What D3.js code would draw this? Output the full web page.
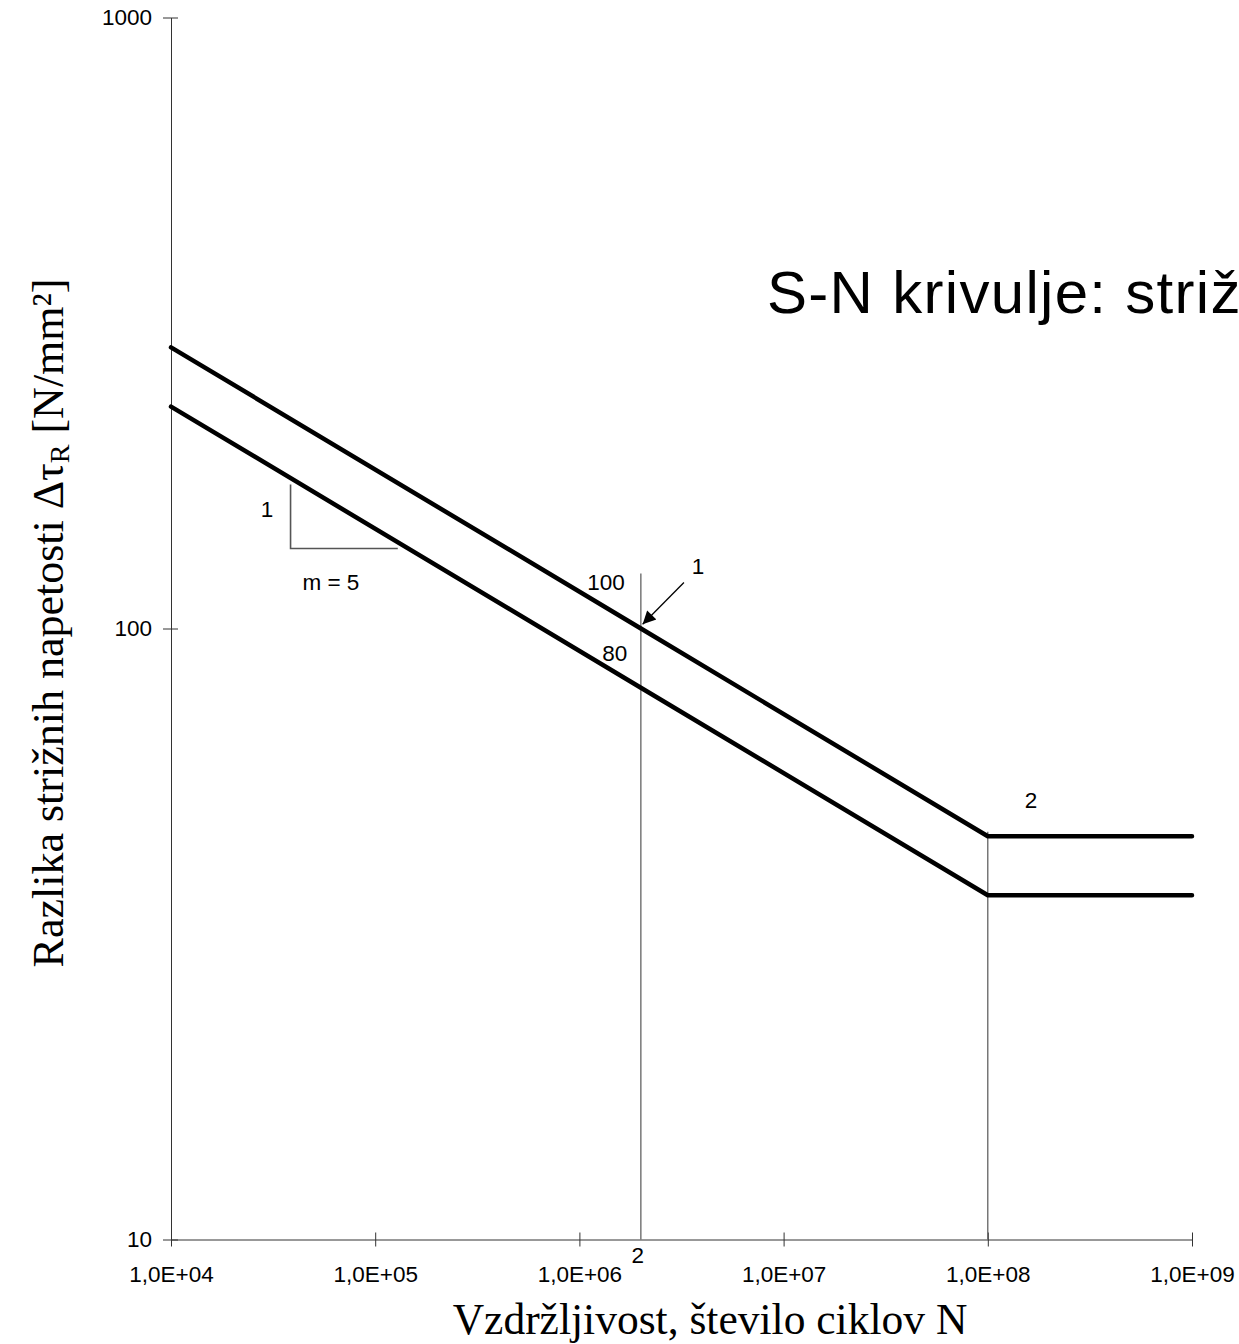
<!DOCTYPE html>
<html>
<head>
<meta charset="utf-8">
<script src="https://cdnjs.cloudflare.com/ajax/libs/d3/7.8.5/d3.min.js"></script>
<style>
  body { margin: 0; background: #fff; }
  svg { display: block; }
</style>
</head>
<body>
<svg id="sn" width="1239" height="1344"></svg>
<script>
// S-N curve data (cycles N, stress range in N/mm2)
var cycles = [1e4, 2e6, 1e8, 1e9];
var curve100 = [288.5, 100, 45.7, 45.7];
var curve80 = [230.8, 80, 36.6, 36.6];

// vertical reference lines at 2e6 and 1e8
var refN = [2e6, 1e8];
var refTop = [123, 46.5];

// slope triangle (m = 5)
var triN = [3.85e4, 3.85e4, 1.29e5];
var triS = [172, 135.2, 135.2];

var xTicks = [1e4, 1e5, 1e6, 1e7, 1e8, 1e9];
var xTickLabels = ["1,0E+04", "1,0E+05", "1,0E+06", "1,0E+07", "1,0E+08", "1,0E+09"];
var yTicks = [10, 100, 1000];

// annotation texts with their anchor in data units
var noteText = ["1", "m = 5", "100", "80", "1", "2", "2"];
var noteN = [2.95e4, 6.07e4, 1.35e6, 1.49e6, 3.81e6, 1.63e8, 1.93e6];
var noteS = [152.5, 115.4, 115.4, 88.6, 123.0, 50.9, 9.15];

function snChart() {
    var svg = d3.select("#sn");

    var x = d3.scaleLog().domain([1e4, 1e9]).range([171, 1192]),
        y = d3.scaleLog().domain([10, 1000]).range([1239.5, 17.5]);

    var g = svg.append("g");

    // x axis
    g.append("g")
     .attr("transform", "translate(0," + y(10) + ")")
     .call(d3.axisBottom(x).tickValues(xTicks).tickSizeInner(7).tickSizeOuter(0)
        .tickFormat(function(d, i) { return xTickLabels[i]; }))
     .call(function(a) {
         a.select(".domain").attr("stroke", "#333");
         a.selectAll(".tick line").attr("y1", -7).attr("stroke", "#333");
         a.selectAll(".tick text")
          .attr("y", 42).attr("dy", 0)
          .attr("font-family", "'Liberation Sans', Arial, sans-serif")
          .attr("font-size", "22.5px").attr("fill", "#000");
     });

    // y axis
    g.append("g")
     .attr("transform", "translate(" + x(1e4) + ",0)")
     .call(d3.axisLeft(y).tickValues(yTicks).tickSizeInner(8).tickSizeOuter(0)
        .tickFormat(d3.format("d")))
     .call(function(a) {
         a.select(".domain").attr("stroke", "#333");
         a.selectAll(".tick line").attr("x1", 7).attr("x2", -8).attr("stroke", "#333");
         a.selectAll(".tick text")
          .attr("x", -19)
          .attr("font-family", "'Liberation Sans', Arial, sans-serif")
          .attr("font-size", "22.5px").attr("fill", "#000");
     });

    // vertical reference lines
    g.selectAll(".ref")
     .data(refN)
     .enter().append("line")
     .attr("class", "ref")
     .attr("x1", function(d) { return x(d); })
     .attr("x2", function(d) { return x(d); })
     .attr("y1", function(d, i) { return y(refTop[i]); })
     .attr("y2", y(10))
     .attr("stroke", "#555")
     .attr("stroke-width", 1.2);

    // slope triangle
    var tri = d3.line()
        .x(function(d) { return x(d[0]); })
        .y(function(d) { return y(d[1]); });
    g.append("path")
     .attr("d", tri(triN.map(function(n, i) { return [n, triS[i]]; })))
     .attr("fill", "none")
     .attr("stroke", "#555")
     .attr("stroke-width", 1.6);

    // S-N curves
    var line = d3.line()
        .x(function(d) { return x(d[0]); })
        .y(function(d) { return y(d[1]); });
    [curve100, curve80].forEach(function(c) {
        g.append("path")
         .attr("d", line(cycles.map(function(n, i) { return [n, c[i]]; })))
         .attr("fill", "none")
         .attr("stroke", "#000")
         .attr("stroke-width", 4.5)
         .attr("stroke-linecap", "round")
         .attr("stroke-linejoin", "round");
    });

    // arrow pointing at detail category 100 at 2e6
    svg.append("defs").append("marker")
       .attr("id", "arrow")
       .attr("viewBox", "0 0 10 10")
       .attr("refX", 10).attr("refY", 5)
       .attr("markerWidth", 20).attr("markerHeight", 13)
       .attr("markerUnits", "userSpaceOnUse")
       .attr("orient", "auto")
       .append("path")
       .attr("d", "M0,0L10,5L0,10Z")
       .attr("fill", "#000");

    g.append("line")
     .attr("x1", x(3.25e6)).attr("y1", y(118.9))
     .attr("x2", x(2.04e6)).attr("y2", y(101.6))
     .attr("stroke", "#000")
     .attr("stroke-width", 1.3)
     .attr("marker-end", "url(#arrow)");

    // annotations
    g.selectAll(".note")
     .data(noteText)
     .enter().append("text")
     .attr("class", "note")
     .attr("x", function(d, i) { return x(noteN[i]); })
     .attr("y", function(d, i) { return y(noteS[i]); })
     .attr("text-anchor", "middle")
     .attr("font-family", "'Liberation Sans', Arial, sans-serif")
     .attr("font-size", "22.5px")
     .text(function(d) { return d; });

    // title (runs off the right edge as in the original)
    svg.append("text")
       .attr("x", 767)
       .attr("y", 313)
       .attr("font-family", "'Liberation Sans', Arial, sans-serif")
       .attr("font-size", "60px")
       .attr("letter-spacing", "1.3px")
       .text("S-N krivulje: strižne napetosti");

    // axis titles
    svg.append("text")
       .attr("x", 710)
       .attr("y", 1334)
       .attr("text-anchor", "middle")
       .attr("font-family", "'Liberation Serif', 'Times New Roman', serif")
       .attr("font-size", "43.5px")
       .text("Vzdržljivost, število ciklov N");

    var yt = svg.append("text")
       .attr("transform", "translate(63,623) rotate(-90)")
       .attr("text-anchor", "middle")
       .attr("font-family", "'Liberation Serif', 'Times New Roman', serif")
       .attr("font-size", "44px");
    yt.append("tspan").text("Razlika strižnih napetosti Δτ");
    yt.append("tspan").attr("font-size", "28px").attr("dy", 6).text("R");
    yt.append("tspan").attr("dy", -6).text(" [N/mm²]");
}

snChart();
</script>
</body>
</html>
